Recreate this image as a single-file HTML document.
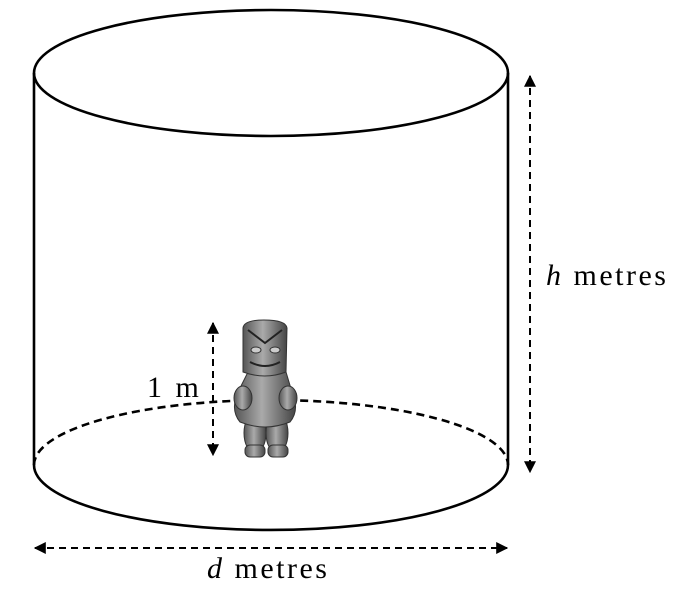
<!DOCTYPE html>
<html><head><meta charset="utf-8"><style>
html,body{margin:0;padding:0;background:#fff;}
svg{display:block;}
text{font-family:"Liberation Serif",serif;fill:#000;}
</style></head><body>
<svg width="681" height="594" viewBox="0 0 681 594" xmlns="http://www.w3.org/2000/svg">
<defs>
<marker id="ah" viewBox="0 0 10 10" refX="9" refY="5" markerWidth="12" markerHeight="12" markerUnits="userSpaceOnUse" orient="auto-start-reverse">
<path d="M0,0 L10,5 L0,10 z" fill="#000"/></marker>
<linearGradient id="g" x1="0" x2="1"><stop offset="0" stop-color="#555"/><stop offset="0.45" stop-color="#aaa"/><stop offset="1" stop-color="#444"/></linearGradient>
</defs>
<g fill="none" stroke="#000" stroke-width="2.6">
<ellipse cx="271" cy="73" rx="237" ry="63"/>
<line x1="34" y1="73" x2="34" y2="465"/>
<line x1="508" y1="73" x2="508" y2="465"/>
<path d="M34,465 A237,65 0 0 0 508,465"/>
<path d="M34,465 A237,65 0 0 1 508,465" stroke-dasharray="8,5"/>
</g>
<g stroke="#000" stroke-width="2" stroke-dasharray="7,5" fill="none">
<line x1="530" y1="76" x2="530" y2="472" marker-start="url(#ah)" marker-end="url(#ah)"/>
<line x1="35" y1="548" x2="507" y2="548" marker-start="url(#ah)" marker-end="url(#ah)"/>
<line x1="213" y1="323" x2="213" y2="455" marker-start="url(#ah)" marker-end="url(#ah)"/>
</g>
<g stroke="#333" stroke-width="1" fill="url(#g)">
<ellipse cx="255" cy="433" rx="11" ry="20"/>
<ellipse cx="277" cy="433" rx="11" ry="20"/>
<rect x="245" y="445" width="20" height="12" rx="5"/>
<rect x="268" y="445" width="20" height="12" rx="5"/>
<path d="M248,372 L286,372 L292,392 Q300,410 290,422 Q265,432 240,422 Q230,410 238,392 Z"/>
<ellipse cx="243" cy="398" rx="9" ry="12"/>
<ellipse cx="288" cy="398" rx="9" ry="12"/>
<path d="M243,328 Q244,320 264,320 Q286,320 287,328 L286,372 Q265,380 243,372 Z"/>
<path d="M248,330 L265,343 L282,330" fill="none" stroke="#222" stroke-width="2"/>
<path d="M250,362 Q265,370 280,362" fill="none" stroke="#222" stroke-width="2"/>
<ellipse cx="256" cy="350" rx="5" ry="3" fill="#ccc"/>
<ellipse cx="275" cy="350" rx="5" ry="3" fill="#ccc"/>
</g>
<text x="546" y="285" font-size="30" letter-spacing="2.5"><tspan font-style="italic">h</tspan> metres</text>
<text x="207" y="578" font-size="30" letter-spacing="2.5"><tspan font-style="italic">d</tspan> metres</text>
<text x="147" y="397" font-size="30" letter-spacing="3">1 m</text>
</svg>
</body></html>
